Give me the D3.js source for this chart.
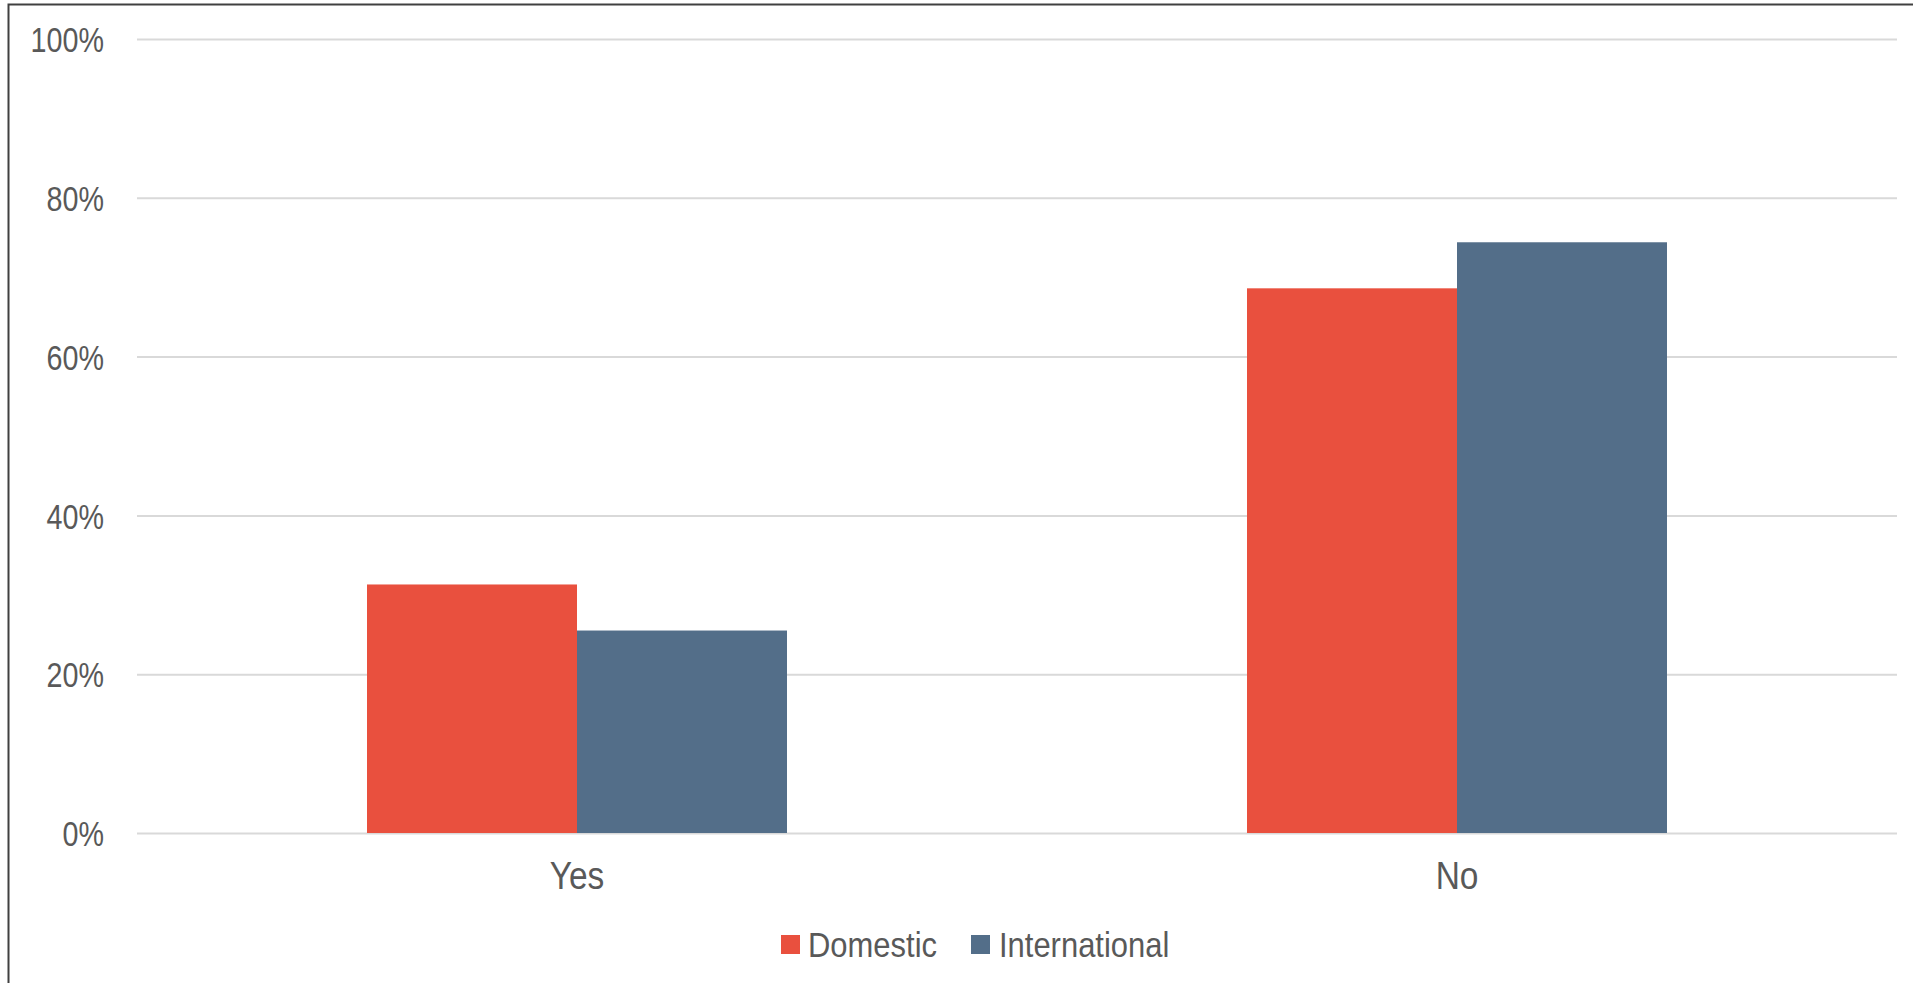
<!DOCTYPE html>
<html>
<head>
<meta charset="utf-8">
<script src="https://cdn.jsdelivr.net/npm/d3@7"></script>
<style>
  html, body { margin: 0; padding: 0; background: #fff; }
  svg { display: block; }
  text { font-family: "Liberation Sans Narrow", "Arial Narrow", "Liberation Sans", Arial, sans-serif; fill: #595959; }
</style>
</head>
<body>
<svg id="chart" width="1913" height="983"></svg>
<script>
const categories = ["Yes", "No"];
const seriesNames = ["Domestic", "International"];
const domesticValues = [0.313, 0.686];
const internationalValues = [0.255, 0.744];
const yTicks = [0, 0.2, 0.4, 0.6, 0.8, 1.0];
const colors = ["#E9503E", "#536E89"];

const svg = d3.select("#chart");
const W = 1913, H = 983;
const plot = { left: 137, right: 1897, top: 39, bottom: 833 };
const FONT = '"Liberation Sans", Arial, sans-serif';
const SX = 0.82; // horizontal condense to mimic Arial Narrow

// outer frame
svg.append("rect")
  .attr("x", 8.5).attr("y", 4.5)
  .attr("width", W + 20).attr("height", H + 20)
  .attr("fill", "none").attr("stroke", "#404040").attr("stroke-width", 2);

const x0 = d3.scaleBand().domain(categories).range([plot.left, plot.right]).paddingInner(0).paddingOuter(0);
const groupFrac = 420 / 880;
const x1 = d3.scaleBand().domain(seriesNames)
  .range([0, x0.bandwidth() * groupFrac]).padding(0);
const y = d3.scaleLinear().domain([0, 1]).range([plot.bottom, plot.top]);

// gridlines + y labels
const yAxis = d3.axisLeft(y).tickValues(yTicks).tickSize(-(plot.right - plot.left)).tickFormat(d3.format(".0%")).tickPadding(33);
const gy = svg.append("g").attr("transform", `translate(${plot.left},0)`).call(yAxis);
gy.select(".domain").remove();
gy.selectAll(".tick line").attr("stroke", "#d9d9d9").attr("stroke-width", 2);
gy.selectAll(".tick text")
  .attr("font-size", 35).attr("fill", "#595959").attr("dy", "0.36em")
  .style("font-family", FONT)
  .each(function() {
    const t = d3.select(this);
    const xv = +t.attr("x");
    t.attr("x", 0).attr("transform", `translate(${xv},0) scale(${SX},1)`);
  });

const data = categories.map((c, i) => ({ cat: c, vals: [domesticValues[i], internationalValues[i]] }));

const groups = svg.append("g").selectAll("g").data(data).join("g")
  .attr("transform", d => `translate(${x0(d.cat) + (x0.bandwidth() - x0.bandwidth() * groupFrac) / 2},0)`);
groups.selectAll("rect").data(d => d.vals.map((v, j) => ({ s: seriesNames[j], v, j })))
  .join("rect")
  .attr("x", d => x1(d.s))
  .attr("width", x1.bandwidth())
  .attr("y", d => y(d.v))
  .attr("height", d => y(0) - y(d.v))
  .attr("fill", d => colors[d.j]);

// x axis labels
const xAxis = d3.axisBottom(x0).tickSize(0).tickPadding(29);
const gx = svg.append("g").attr("transform", `translate(0,${plot.bottom})`).call(xAxis);
gx.select(".domain").remove();
gx.selectAll(".tick text")
  .attr("font-size", 38).attr("fill", "#595959")
  .style("font-family", FONT)
  .attr("transform", `scale(0.88,1)`);

// legend
const legendItems = [
  { name: seriesNames[0], color: colors[0], x: 781, tx: 808 },
  { name: seriesNames[1], color: colors[1], x: 971, tx: 999 }
];
const lg = svg.append("g");
legendItems.forEach(it => {
  lg.append("rect").attr("x", it.x).attr("y", 935).attr("width", 19).attr("height", 19).attr("fill", it.color);
  lg.append("text")
    .attr("transform", `translate(${it.tx},957) scale(0.86,1)`)
    .attr("font-size", 36).style("font-family", FONT).text(it.name);
});
</script>
</body>
</html>
